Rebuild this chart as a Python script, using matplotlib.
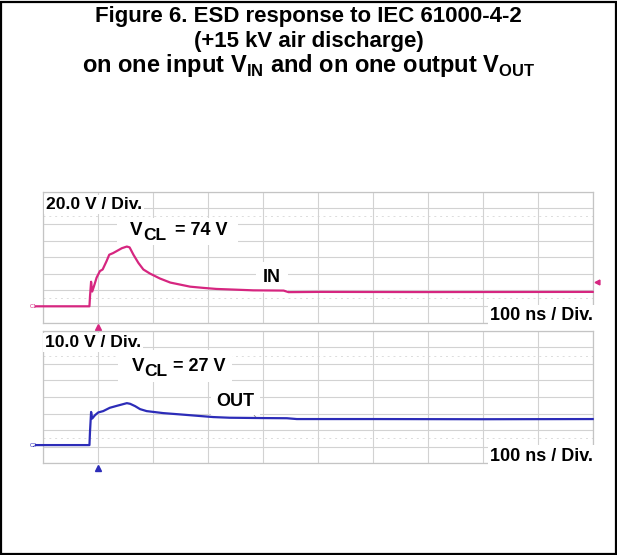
import numpy as np
import matplotlib
matplotlib.use("Agg")
import matplotlib.pyplot as plt
from matplotlib.patches import Rectangle

plt.rcParams['font.family'] = ['Liberation Sans', 'DejaVu Sans']
plt.rcParams['mathtext.fontset'] = 'custom'
plt.rcParams['mathtext.bf'] = 'Liberation Sans:bold'
plt.rcParams['mathtext.rm'] = 'Liberation Sans:bold'

# time in ns (trigger at 0), voltage in V
in_t = [-112, -15, -14, -12, -10, -7, -2, 4, 9, 16, 21, 28, 36, 44, 53, 58,
        65, 74, 83, 95, 113, 132, 150, 168, 192, 216, 240, 283, 338, 347,
        404, 586, 900]
in_v = [0, 0, 12, 30, 18, 24, 35, 43, 45, 55, 63, 65, 68, 71, 73, 72,
        63, 53, 45, 40, 34, 29, 26.5, 24, 22.5, 21.2, 20.6, 19.5, 19.2, 17.3,
        17.6, 17.4, 17.6]

out_t = [-112, -15, -14, -12, -10, -5, 1, 10, 22, 35, 44, 53, 59, 68, 77, 89,
         119, 150, 180, 210, 240, 300, 344, 362, 500, 700, 900]
out_v = [0, 0, 8, 20, 16, 18, 19.7, 20.5, 22.5, 23.7, 24.5, 25.3, 24.9, 23.5,
         21.7, 20.5, 19.3, 18.5, 17.7, 16.9, 16.5, 16.3, 16.2, 15.7, 15.7,
         15.6, 15.7]

in_vdiv = 20.0
out_vdiv = 10.0
in_zero_div = 3.0     # 0 V sits this many divisions below centre
out_zero_div = 2.9
in_peak_label = 74
out_peak_label = 27
in_level_marker = 30

title_lines = ["Figure 6. ESD response to IEC 61000-4-2",
               "(+15 kV air discharge)",
               r"on one input V$_{\mathbf{IN}}$ and on one output V$_{\mathbf{OUT}}$"]

pink = '#d62680'
blue = '#2c2cb8'
grid_c = '#d2d2d2'

fig = plt.figure(figsize=(6.17, 5.55), dpi=100)
fig.patches.append(Rectangle((0.002, 0.002), 0.996, 0.995, transform=fig.transFigure,
                             fill=False, edgecolor='black', lw=1.6))

title_y = [0.9604, 0.9153, 0.8703]
title_size = [16, 16, 17]
for line, y, fs in zip(title_lines, title_y, title_size):
    fig.text(0.5, y, line, ha='center', va='baseline', fontsize=fs, fontweight='bold')


def scope(rect, t, v, vdiv, zero_div, color):
    ax = fig.add_axes(rect)
    lo = (-4 + zero_div) * vdiv
    hi = (4 + zero_div) * vdiv
    ax.set_xlim(-100, 900)
    ax.set_ylim(lo, hi)
    ax.set_xticks(np.arange(-100, 901, 100))
    ax.set_yticks(np.arange(lo, hi + 0.1, vdiv))
    ax.tick_params(length=0, labelbottom=False, labelleft=False)
    ax.grid(True, color=grid_c, lw=0.8)
    for s in ax.spines.values():
        s.set_color('#c4c4c4')
        s.set_linewidth(0.9)
    mid = zero_div * vdiv
    ax.axhline(mid, color='#9a9a9a', lw=0.7, dashes=(2, 2.5), zorder=1)
    for k in (-2.5, 2.5):
        ax.axhline(mid + k * vdiv, color='#dcdcdc', lw=0.7, dashes=(2, 4), zorder=1)
    ax.plot(t, v, color=color, lw=1.6, clip_on=False, zorder=4)
    # trigger marker below the grid
    ax.plot([0], [-0.035], marker='^', ms=4, color=color, transform=ax.get_xaxis_transform(),
            clip_on=False)
    return ax


def vcl_label(ax, x, y, value, gap, box):
    # white patch the label sits on
    ax.add_patch(Rectangle(box[:2], box[2], box[3], transform=ax.transAxes,
                           facecolor='white', edgecolor='none', zorder=2.5))
    t1 = ax.text(x, y, 'V', transform=ax.transAxes, fontsize=13.5, fontweight='bold',
                 va='baseline', zorder=5)
    t2 = ax.annotate('CL', xy=(1, 0), xycoords=t1, xytext=(0.3, -3),
                     textcoords='offset points', fontsize=12.5, fontweight='bold',
                     va='bottom', zorder=5)
    ax.annotate('= %d V' % value, xy=(1, 0), xycoords=(t2, t1), xytext=(gap, 0),
                textcoords='offset points', fontsize=13, fontweight='bold',
                va='bottom', zorder=5)


ax1 = scope([0.0692, 0.4186, 0.8914, 0.2360], in_t, in_v, in_vdiv, in_zero_div, pink)
ax2 = scope([0.0692, 0.1652, 0.8914, 0.2389], out_t, out_v, out_vdiv, out_zero_div, blue)

ax1.plot([1.008], [in_level_marker], marker='<', ms=3.5, color=pink,
         transform=ax1.get_yaxis_transform(), clip_on=False)
ax1.text(-0.018, 0, 'C1', transform=ax1.get_yaxis_transform(), fontsize=4, color=pink,
         va='center', ha='center')
ax2.text(-0.018, 0, 'C2', transform=ax2.get_yaxis_transform(), fontsize=4, color=blue,
         va='center', ha='center')

bb = dict(facecolor='white', edgecolor='none', pad=1.5)
ax1.text(0.006, 0.868, '20.0 V / Div.', transform=ax1.transAxes, fontsize=12.6,
         fontweight='bold', va='baseline', bbox=bb, zorder=5)
ax2.text(0.004, 0.88, '10.0 V / Div.', transform=ax2.transAxes, fontsize=12.6,
         fontweight='bold', va='baseline', bbox=bb, zorder=5)
for ax in (ax1, ax2):
    ax.text(1.0, 0.02, '100 ns / Div.', transform=ax.transAxes, fontsize=13,
            fontweight='bold', ha='right', va='baseline', bbox=bb, zorder=5)

vcl_label(ax1, 0.159, 0.669, in_peak_label, 6.5, (0.135, 0.595, 0.22, 0.205))
vcl_label(ax2, 0.162, 0.696, out_peak_label, 3.6, (0.137, 0.615, 0.207, 0.24))

lead = dict(arrowstyle='-', color='#888888', lw=0.6, shrinkA=0, shrinkB=0, relpos=(0.85, 0))
ax1.annotate('IN', xy=(347, np.interp(347, in_t, in_v)), xytext=(0.40, 0.313),
             textcoords='axes fraction', fontsize=13, fontweight='bold', va='baseline',
             bbox=dict(facecolor='white', edgecolor='none', pad=5), arrowprops=lead, zorder=3)
ax2.annotate('OUT', xy=(289, np.interp(289, out_t, out_v)), xytext=(0.316, 0.434),
             textcoords='axes fraction', fontsize=13, fontweight='bold', va='baseline',
             bbox=dict(facecolor='white', edgecolor='none', pad=4), arrowprops=lead, zorder=3)

fig.savefig('out.png', dpi=100)
